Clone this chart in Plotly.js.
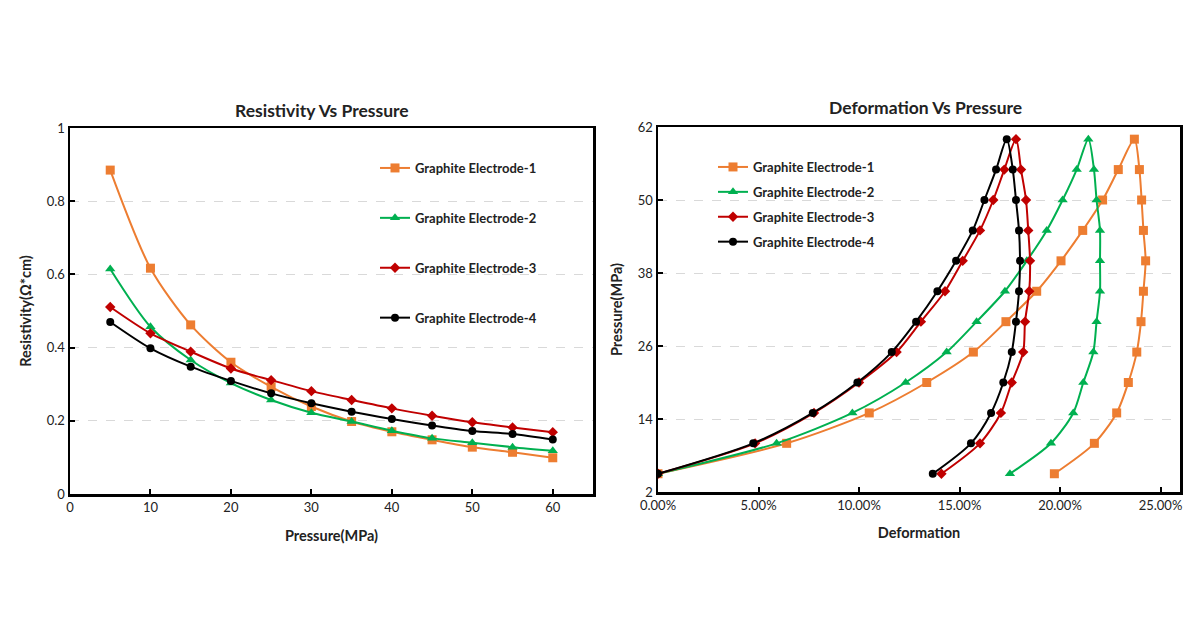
<!DOCTYPE html>
<html>
<head>
<meta charset="utf-8">
<script src="https://cdn.plot.ly/plotly-3.0.1.min.js"></script>
<style>
  body { margin: 0; background: #fff; }
  #chart { width: 1200px; height: 630px; }
</style>
</head>
<body>
<div id="chart"></div>
<script>
// resistivity vs pressure
var pressure = [5, 10, 15, 20, 25, 30, 35, 40, 45, 50, 55, 60];
var res1 = [0.885, 0.617, 0.462, 0.360, 0.293, 0.239, 0.198, 0.170, 0.148, 0.128, 0.114, 0.099];
var res2 = [0.615, 0.457, 0.366, 0.303, 0.257, 0.222, 0.198, 0.173, 0.152, 0.140, 0.128, 0.118];
var res3 = [0.511, 0.439, 0.389, 0.343, 0.311, 0.281, 0.257, 0.234, 0.214, 0.196, 0.182, 0.169];
var res4 = [0.470, 0.398, 0.348, 0.309, 0.275, 0.248, 0.225, 0.205, 0.187, 0.172, 0.164, 0.149];

// deformation (%) vs pressure, loading 5 -> 60 then unloading 60 -> 5
var pressureLoop = [5, 10, 15, 20, 25, 30, 35, 40, 45, 50, 55, 60,
                    55, 50, 45, 40, 35, 30, 25, 20, 15, 10, 5];
var def1 = [0, 6.40, 10.51, 13.37, 15.69, 17.31, 18.84, 20.05, 21.13, 22.12, 22.90, 23.70,
            23.95, 24.06, 24.15, 24.26, 24.15, 24.03, 23.82, 23.40, 22.82, 21.71, 19.72];
var def2 = [0, 5.90, 9.67, 12.32, 14.36, 15.85, 17.26, 18.35, 19.34, 20.13, 20.83, 21.41,
            21.69, 21.82, 21.99, 21.99, 21.99, 21.82, 21.66, 21.16, 20.66, 19.55, 17.51];
var def3 = [0, 4.83, 7.76, 10.00, 11.87, 13.08, 14.28, 15.16, 16.02, 16.68, 17.23, 17.81,
            18.06, 18.31, 18.42, 18.51, 18.47, 18.26, 18.17, 17.60, 17.06, 16.02, 14.10];
var def4 = [0, 4.74, 7.70, 9.92, 11.63, 12.84, 13.90, 14.83, 15.66, 16.24, 16.82, 17.35,
            17.65, 17.81, 17.96, 18.01, 17.96, 17.81, 17.60, 17.18, 16.57, 15.57, 13.67];

var names = ['Graphite Electrode-1', 'Graphite Electrode-2', 'Graphite Electrode-3', 'Graphite Electrode-4'];
var colors = ['#ED7D31', '#00B050', '#C00000', '#000000'];
var symbols = ['square', 'triangle-up', 'diamond', 'circle'];
var sizes = [9, 9, 8, 8];

var FONT = 'Lato, "Open Sans", sans-serif';

function series(x, y, i, xa, ya, leg) {
    return {
        x: x,
        y: y,
        name: names[i],
        xaxis: xa,
        yaxis: ya,
        legend: leg,
        legendgroup: leg + i,
        type: 'scatter',
        mode: 'lines+markers',
        line: { color: colors[i], width: 2, shape: 'spline', smoothing: 0.8 },
        marker: { color: colors[i], symbol: symbols[i], size: sizes[i] }
    };
}

var resData = [res1, res2, res3, res4];
var defData = [def1, def2, def3, def4];
var traces = [];
for (var i = 0; i < 4; i++) traces.push(series(pressure, resData[i], i, 'x', 'y', 'legend'));
for (var j = 0; j < 4; j++) traces.push(series(defData[j], pressureLoop, j, 'x2', 'y2', 'legend2'));

function frame(extra) {
    var ax = {
        showline: true, mirror: true, linecolor: '#000', linewidth: 2.5,
        ticks: 'inside', ticklen: 5, tickwidth: 2, tickcolor: '#000',
        zeroline: false, showgrid: false,
        tickfont: { family: FONT, size: 13, color: '#222' },
        anchor: 'free'
    };
    for (var k in extra) ax[k] = extra[k];
    return ax;
}

var titleFont = { family: FONT, size: 14.5, color: '#222', weight: 'bold' };
var gridY = { showgrid: true, gridcolor: '#d9d9d9', griddash: 'dash', gridwidth: 1 };
var legendFont = { family: FONT, size: 13, color: '#222', weight: 'bold' };
var headFont = { family: FONT, size: 17.5, color: '#222', weight: 'bold' };

var layout = {
    width: 1200,
    height: 630,
    margin: { l: 0, r: 0, t: 0, b: 0 },
    paper_bgcolor: '#fff',
    plot_bgcolor: '#fff',
    showlegend: true,
    xaxis: frame({
        domain: [70 / 1200, 593 / 1200], anchor: 'y', range: [0, 65], dtick: 10,
        title: { text: 'Pressure(MPa)', font: titleFont, standoff: 17 }
    }),
    yaxis: frame(Object.assign({
        domain: [1 - 494 / 630, 1 - 128 / 630], anchor: 'x', range: [0, 1], dtick: 0.2,
        title: { text: 'Resistivity(Ω*cm)', font: titleFont, standoff: 12 }
    }, gridY)),
    xaxis2: frame({
        domain: [658 / 1200, 1180 / 1200], anchor: 'y2', range: [0, 25.97], dtick: 5,
        tickformat: '.2f', ticksuffix: '%',
        title: { text: 'Deformation', font: titleFont, standoff: 16 }
    }),
    yaxis2: frame(Object.assign({
        domain: [1 - 492 / 630, 1 - 127 / 630], anchor: 'x2', range: [2, 62], dtick: 12, tick0: 2,
        title: { text: 'Pressure(MPa)', font: titleFont, standoff: 12 }
    }, gridY)),
    legend: {
        x: 375 / 1200, y: 1 - 153 / 630, xanchor: 'left', yanchor: 'top',
        bgcolor: 'rgba(0,0,0,0)', borderwidth: 0,
        traceorder: 'grouped', tracegroupgap: 30,
        font: legendFont
    },
    legend2: {
        x: 713 / 1200, y: 1 - 152 / 630, xanchor: 'left', yanchor: 'top',
        bgcolor: 'rgba(0,0,0,0)', borderwidth: 0,
        traceorder: 'grouped', tracegroupgap: 5,
        font: legendFont
    },
    annotations: [
        {
            text: 'Resistivity Vs Pressure', xref: 'paper', yref: 'paper',
            x: 322 / 1200, y: 1 - 110 / 630, xanchor: 'center', yanchor: 'middle',
            showarrow: false, font: headFont
        },
        {
            text: 'Deformation Vs Pressure', xref: 'paper', yref: 'paper',
            x: 926 / 1200, y: 1 - 107 / 630, xanchor: 'center', yanchor: 'middle',
            showarrow: false, font: headFont
        }
    ]
};

Plotly.newPlot('chart', traces, layout, { displayModeBar: false, staticPlot: true });
</script>
</body>
</html>
